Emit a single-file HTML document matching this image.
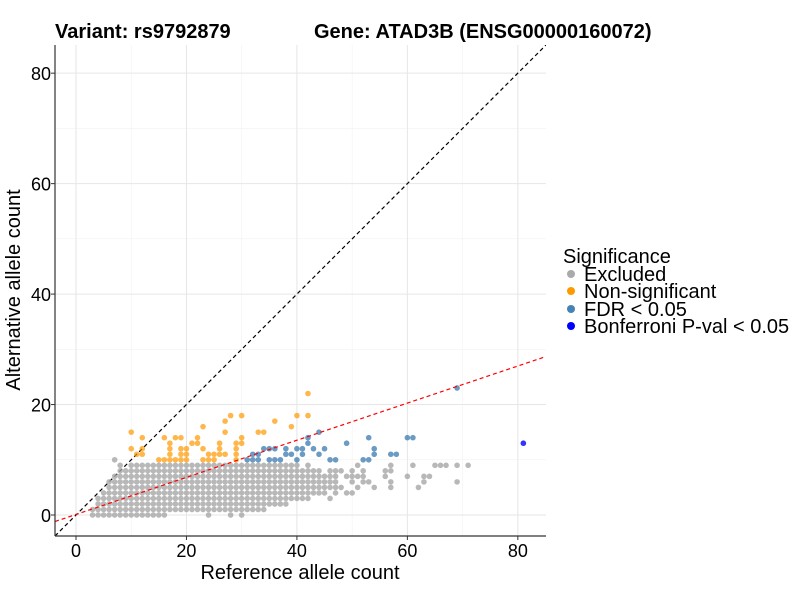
<!DOCTYPE html>
<html><head><meta charset="utf-8">
<style>
body{margin:0;background:#fff;}
svg text{font-family:"Liberation Sans",Arial,sans-serif;}
</style></head>
<body>
<svg id="chart" width="800" height="600" xmlns="http://www.w3.org/2000/svg">
  <rect width="800" height="600" fill="#fff"/>
  <text x="55" y="38" font-size="20" font-weight="bold">Variant: rs9792879</text>
  <text x="314" y="38" font-size="20" font-weight="bold">Gene: ATAD3B (ENSG00000160072)</text>
  <g id="grid"></g>
  <g id="refs"></g>
  <g id="pts"></g>
  <g id="axes"></g>
  <text x="300" y="579" font-size="20" text-anchor="middle">Reference allele count</text>
  <text transform="translate(20,290) rotate(-90)" font-size="20" text-anchor="middle">Alternative allele count</text>
  <g>
    <text x="563" y="263" font-size="20">Significance</text>
    <circle cx="571" cy="274" r="4" fill="#aaaaaa"/>
    <text x="584" y="281" font-size="20">Excluded</text>
    <circle cx="571" cy="291" r="4" fill="#ff9900"/>
    <text x="584" y="298" font-size="20">Non-significant</text>
    <circle cx="571" cy="309" r="4" fill="#4682b4"/>
    <text x="584" y="316" font-size="20">FDR &lt; 0.05</text>
    <circle cx="571" cy="326" r="4" fill="#0000ff"/>
    <text x="584" y="333" font-size="20">Bonferroni P-val &lt; 0.05</text>
  </g>
</svg>
<script>
const xTicks=[0,20,40,60,80];
const yTicks=[0,20,40,60,80];
const minorTicks=[10,30,50,70];
// dense grey columns: x, lowest y, highest y
const greyColX=[3,4,5,6,7,8,9,10,11,12,13,14,15,16,17,18,19,20,21,22,23,24,25,26,27,28,29,30,31,32,33,34,35,36,37,38,39,40,41,42,43,44,45];
const greyColLo=[0,0,0,0,0,0,0,0,0,0,0,0,0,0,1,1,1,1,1,1,1,0,1,1,1,0,1,0,1,1,1,1,2,2,2,2,3,3,3,3,4,4,4];
const greyColHi=[1,3,4,6,7,9,8,9,9,9,9,9,9,9,9,9,9,9,9,9,9,9,9,9,9,9,9,9,9,9,9,9,9,9,9,9,9,9,8,9,8,8,7];
// sparse grey points
const greyX=[7,46,46,46,46,46,47,47,47,47,47,48,48,49,49,50,50,50,50,51,51,51,52,52,52,53,54,56,56,57,57,57,57,60,61,62,63,63,64,65,66,67,69,69,71];
const greyY=[10,3,5,6,7,8,4,5,6,7,8,5,8,4,7,4,6,7,8,5,7,9,6,7,8,6,5,7,8,5,6,8,9,7,9,5,6,7,7,9,9,9,6,9,9];
const orangeX=[10,12,10,12,11,12,16,18,19,17,22,21,22,23,27,28,30,27,26,29,30,30,33,34,36,39,40,42,42,17,19,20,23,26,29,17,19,20,24,25,26,27,29,15,16,17,18,19,20,23,24,25,29];
const orangeY=[15,14,12,12,11,11,14,14,14,13,14,13,13,16,17,18,18,15,13,13,14,13,15,15,17,16,18,18,22,12,12,12,12,12,12,11,11,11,11,11,11,11,11,10,10,10,10,10,10,10,10,10,10];
const fdrX=[31,32,33,32,33,34,35,36,35,36,37,38,38,39,40,41,40,41,42,42,43,44,45,44,46,47,49,53,54,54,52,53,57,58,60,61,69];
const fdrY=[10,10,10,11,11,12,12,12,10,10,10,12,11,11,12,12,10,11,14,13,12,15,12,11,10,10,13,14,12,11,10,10,11,11,14,14,23];
const bonfX=[81];
const bonfY=[13];
const diagSlope=1, fitSlope=0.336, fitIntercept=0.1;

const X0=55,X1=546,Y0=45,Y1=536;
const xmin=-3.8,xmax=85.1,ymin=-3.8,ymax=85.1;
const sx=v=>X0+(v-xmin)/(xmax-xmin)*(X1-X0);
const sy=v=>Y1-(v-ymin)/(ymax-ymin)*(Y1-Y0);
const NS="http://www.w3.org/2000/svg";
function mk(tag,attrs,parent){const e=document.createElementNS(NS,tag);for(const k in attrs)e.setAttribute(k,attrs[k]);parent.appendChild(e);return e;}
const grid=document.getElementById('grid'),refs=document.getElementById('refs'),pts=document.getElementById('pts'),axes=document.getElementById('axes');
minorTicks.forEach(t=>{
  let l=mk('line',{x1:sx(t),x2:sx(t),y1:Y0,y2:Y1,stroke:'#f2f2f2','stroke-width':0.6},grid);
  
  
  l=mk('line',{x1:X0,x2:X1,y1:sy(t),y2:sy(t),stroke:'#f2f2f2','stroke-width':0.6},grid);
  
  
});
xTicks.forEach(t=>{
  const l=mk('line',{x1:sx(t),x2:sx(t),y1:Y0,y2:Y1,stroke:'#e6e6e6','stroke-width':1},grid);
  
  
  const tk=mk('line',{x1:sx(t),x2:sx(t),y1:Y1,y2:Y1+4,stroke:'#333','stroke-width':1},axes);
  
  
  const tx=mk('text',{x:sx(t),y:Y1+21,'font-size':18,'text-anchor':'middle',fill:'#000'},axes);
  tx.textContent=t;
  
  
});
yTicks.forEach(t=>{
  const l=mk('line',{x1:X0,x2:X1,y1:sy(t),y2:sy(t),stroke:'#e6e6e6','stroke-width':1},grid);
  
  
  const tk=mk('line',{x1:X0-4,x2:X0,y1:sy(t),y2:sy(t),stroke:'#333','stroke-width':1},axes);
  
  
  const tx=mk('text',{x:X0-4,y:sy(t)+7,'font-size':18,'text-anchor':'end',fill:'#000'},axes);
  tx.textContent=t;
  
  
});
let al=mk('line',{x1:X0,x2:X0,y1:Y0,y2:Y1,stroke:'#333','stroke-width':1.2},axes);


al=mk('line',{x1:X0,x2:X1,y1:Y1,y2:Y1,stroke:'#333','stroke-width':1.2},axes);



function dot(x,y,fill,op,name){
  const c=mk('circle',{cx:sx(x),cy:sy(y),r:2.8,fill:fill,'fill-opacity':op},pts);
  
  
}
greyColX.forEach((x,i)=>{for(let y=greyColLo[i];y<=greyColHi[i];y++)dot(x,y,'#a6a6a6',0.8,'point-excluded');});
greyX.forEach((x,i)=>dot(x,greyY[i],'#a6a6a6',0.8,'point-excluded'));
orangeX.forEach((x,i)=>dot(x,orangeY[i],'#ff9900',0.7,'point-nonsignificant'));
fdrX.forEach((x,i)=>dot(x,fdrY[i],'#4682b4',0.8,'point-fdr'));
bonfX.forEach((x,i)=>dot(x,bonfY[i],'#0000ff',0.8,'point-bonferroni'));

const cp=mk('clipPath',{id:'clip'},refs);
mk('rect',{x:X0,y:Y0,width:X1-X0,height:Y1-Y0},cp);
let d=mk('line',{x1:sx(xmin),y1:sy(xmin*diagSlope),x2:sx(xmax),y2:sy(xmax*diagSlope),stroke:'#000','stroke-width':1.2,'stroke-dasharray':'4,3','clip-path':'url(#clip)'},refs);


d=mk('line',{x1:sx(xmin),y1:sy(xmin*fitSlope+fitIntercept),x2:sx(xmax),y2:sy(xmax*fitSlope+fitIntercept),stroke:'#ff0000','stroke-width':1.2,'stroke-dasharray':'4,3','clip-path':'url(#clip)'},pts);


</script>
</body></html>
